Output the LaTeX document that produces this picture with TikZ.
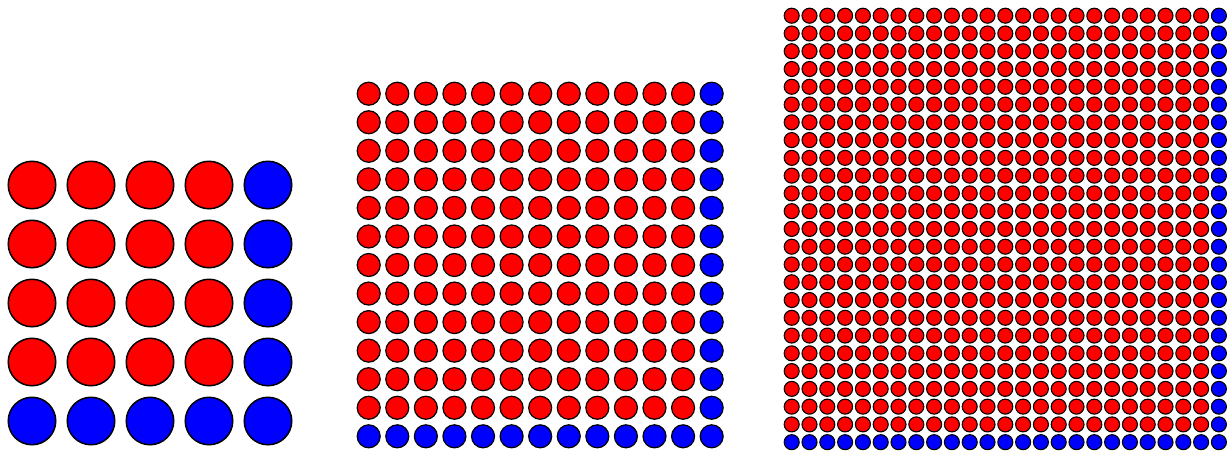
\documentclass[tikz,border=0pt]{standalone}
\usetikzlibrary{shapes.geometric}
\definecolor{dotred}{RGB}{255,0,0}
\definecolor{dotblue}{RGB}{0,0,255}
\tikzset{
  dot/.style={circle, inner sep=0pt, draw=black, outer sep=0pt},
  dotA/.style={dot, minimum size=47.5pt, line width=1.5pt},
  dotB/.style={dot, minimum size=23pt, line width=1.2pt},
  dotC/.style={dot, minimum size=15pt, line width=1.1pt},
}
\begin{document}
\begin{tikzpicture}[x=1pt,y=-1pt]
\useasboundingbox (0,0) rectangle (1229,453);
% grid 1: 5x5
\foreach \i in {0,...,4}{
  \foreach \j in {0,...,4}{
    \pgfmathsetmacro{\c}{(\i==4 || \j==4) ? 1 : 0}
    \ifdim\c pt>0.5pt
      \node[dotA, fill=dotblue] (a-\i-\j) at ({32+59*\i},{185+59*\j}) {};
    \else
      \node[dotA, fill=dotred] (a-\i-\j) at ({32+59*\i},{185+59*\j}) {};
    \fi
  }
}
% grid 2: 13x13
\foreach \i in {0,...,12}{
  \foreach \j in {0,...,12}{
    \pgfmathsetmacro{\c}{(\i==12 || \j==12) ? 1 : 0}
    \ifdim\c pt>0.5pt
      \node[dotB, fill=dotblue] (b-\i-\j) at ({368.7+28.58*\i},{93.7+28.55*\j}) {};
    \else
      \node[dotB, fill=dotred] (b-\i-\j) at ({368.7+28.58*\i},{93.7+28.55*\j}) {};
    \fi
  }
}
% grid 3: 25x25
\foreach \i in {0,...,24}{
  \foreach \j in {0,...,24}{
    \pgfmathsetmacro{\c}{(\i==24 || \j==24) ? 1 : 0}
    \ifdim\c pt>0.5pt
      \node[dotC, fill=dotblue] (c-\i-\j) at ({791.7+17.8*\i},{15.7+17.77*\j}) {};
    \else
      \node[dotC, fill=dotred] (c-\i-\j) at ({791.7+17.8*\i},{15.7+17.77*\j}) {};
    \fi
  }
}
\end{tikzpicture}
\end{document}
